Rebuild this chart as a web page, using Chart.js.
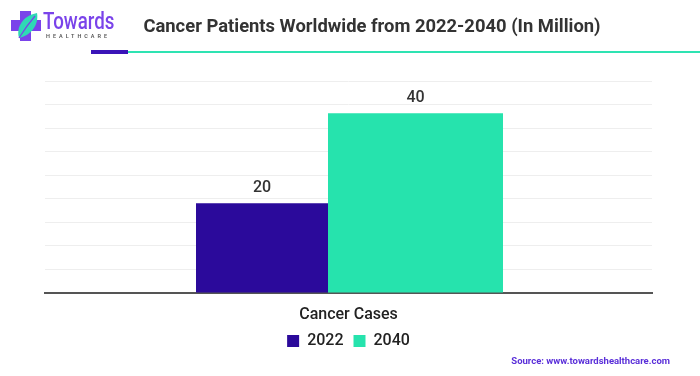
<!DOCTYPE html>
<html>
<head>
<meta charset="utf-8">
<script src="https://cdn.jsdelivr.net/npm/chart.js@4"></script>
<style>
html,body{margin:0;padding:0;background:#fff;}
#wrap{position:relative;width:700px;height:376px;overflow:hidden;font-family:Roboto,sans-serif;}
canvas{position:absolute;left:0;top:0;}
#title{position:absolute;left:122px;width:500px;top:15px;text-align:center;font-size:18.4px;font-weight:700;color:#333;white-space:nowrap;}
#bar1{position:absolute;left:91px;top:50px;width:37px;height:4px;background:#3a14b8;}
#bar2{position:absolute;left:128px;top:51px;width:572px;height:2px;background:#2ee3b2;}
#source{position:absolute;right:30px;top:355px;font-size:9.5px;font-weight:700;color:#5a2fd9;}
#logo{position:absolute;left:10px;top:10px;}
#logoT{position:absolute;left:43px;top:7px;font-size:24px;font-weight:500;color:#7a43ea;transform-origin:0 0;transform:scaleX(0.78);}
#logoH{position:absolute;left:46px;top:33px;font-size:5.5px;font-weight:600;color:#555;letter-spacing:3px;}
</style>
</head>
<body>
<div id="wrap">
<canvas id="c" width="700" height="376"></canvas>
<svg id="logo" width="34" height="34" viewBox="0 0 34 34">
  <path d="M10 1 H21 V10 H31 V21 H21 V31 H10 V21 H1 V10 H10 Z" fill="#7a43ea"/>
  <path d="M9 28 C6 18 12 6 27 3 C29 14 22 25 9 28 Z" fill="#2fd9b5"/>
  <path d="M9 28 C14 20 19 13 25 6" stroke="#7a43ea" stroke-width="1.2" fill="none"/>
</svg>
<div id="logoT">Towards</div>
<div id="logoH">HEALTHCARE</div>
<div id="title">Cancer Patients Worldwide from 2022-2040 (In Million)</div>
<div id="bar1"></div><div id="bar2"></div>
<div id="source">Source: www.towardshealthcare.com</div>
</div>
<script>
const categories = ['Cancer Cases'];
const seriesNames = ['2022', '2040'];
const values2022 = [20];
const values2040 = [40];
const colors = ['#2b0a9b', '#26e3ad'];

const valueLabels = {
  id: 'valueLabels',
  afterDatasetsDraw(chart) {
    const ctx = chart.ctx;
    ctx.save();
    ctx.font = '500 16px Roboto, sans-serif';
    ctx.fillStyle = '#333';
    ctx.textAlign = 'center';
    ctx.textBaseline = 'middle';
    chart.data.datasets.forEach((ds, i) => {
      chart.getDatasetMeta(i).data.forEach((el, j) => {
        ctx.fillText(String(ds.data[j]), el.x, el.y - 15);
      });
    });
    ctx.restore();
  }
};

new Chart(document.getElementById('c'), {
  type: 'bar',
  data: {
    labels: categories,
    datasets: [
      { label: seriesNames[0], data: values2022, backgroundColor: colors[0],
        categoryPercentage: 0.57, barPercentage: 0.763 },
      { label: seriesNames[1], data: values2040, backgroundColor: colors[1],
        categoryPercentage: 0.4415, barPercentage: 1.306 }
    ]
  },
  options: {
    responsive: false,
    animation: false,
    devicePixelRatio: 1,
    layout: { padding: { left: 45, right: 48, top: 81, bottom: 17 } },
    plugins: {
      legend: {
        position: 'bottom',
        labels: { boxWidth: 12, boxHeight: 12, padding: 10, color: '#222',
          font: { family: 'Roboto, sans-serif', size: 16, weight: '500' } }
      },
      tooltip: { enabled: false },
      title: { display: false }
    },
    scales: {
      x: {
        grid: { display: false },
        border: { display: true, color: '#555', width: 2 },
        ticks: { color: '#222', padding: 4, font: { family: 'Roboto, sans-serif', size: 16, weight: '500' } },
        afterFit(scale) { scale.height = 30; }
      },
      y: {
        min: 0, max: 47.2,
        grid: { color: '#eeeeee', lineWidth: 1, drawTicks: false },
        border: { display: false },
        ticks: { display: false, count: 10 }
      }
    }
  },
  plugins: [valueLabels]
});
</script>
</body>
</html>
